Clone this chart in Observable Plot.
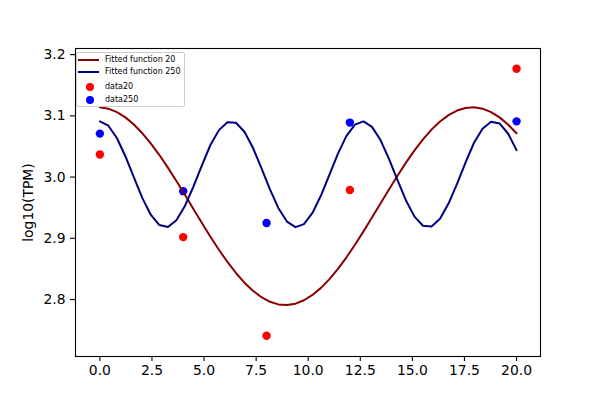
<!DOCTYPE html>
<html>
<head>
<meta charset="utf-8">
<script src="https://cdn.jsdelivr.net/npm/d3@7"></script>
<script src="https://cdn.jsdelivr.net/npm/@observablehq/plot@0.6"></script>
<style>
  body { margin: 0; background: #fff; }
  #wrap { position: relative; width: 600px; height: 400px; font-family: "DejaVu Sans", sans-serif; }
  #legend { position: absolute; left: 76px; top: 52px; width: 107px; height: 53px;
            border: 1px solid #cccccc; border-radius: 2px; background: rgba(255,255,255,0.8); }
  .row { position: absolute; left: 0; height: 12px; width: 100%; font-size: 8px; color: #000; }
  .row span { position: absolute; left: 28px; top: 50%; transform: translateY(-50%); white-space: nowrap; line-height: 1; }
  .hl { position: absolute; left: 1px; width: 21px; height: 2px; top: 50%; margin-top: -1px; }
  .hd { position: absolute; left: 9px; width: 8px; height: 8px; border-radius: 50%; top: 50%; margin-top: -4px; }
</style>
</head>
<body>
<div id="wrap"></div>
<script>
// Fitted curves sampled at 50 evenly spaced points from 0 to 20
const fitN = 50;
const fit20 = [3.1139, 3.1117, 3.1061, 3.0975, 3.0859, 3.0715, 3.0548, 3.0360, 3.0155, 2.9937,
               2.9710, 2.9480, 2.9251, 2.9027, 2.8813, 2.8614, 2.8434, 2.8275, 2.8143, 2.8038,
               2.7963, 2.7921, 2.7911, 2.7933, 2.7989, 2.8075, 2.8191, 2.8334, 2.8502, 2.8690,
               2.8895, 2.9113, 2.9340, 2.9570, 2.9799, 3.0023, 3.0236, 3.0436, 3.0616, 3.0775,
               3.0907, 3.1012, 3.1087, 3.1129, 3.1139, 3.1117, 3.1061, 3.0975, 3.0859, 3.0716];
const fit250 = [3.0910, 3.0839, 3.0639, 3.0341, 2.9995, 2.9657, 2.9382, 2.9217, 2.9186, 2.9295,
                2.9528, 2.9844, 3.0193, 3.0524, 3.0767, 3.0897, 3.0887, 3.0740, 3.0479, 3.0148,
                2.9800, 2.9492, 2.9274, 2.9182, 2.9231, 2.9414, 2.9699, 3.0041, 3.0384, 3.0672,
                3.0856, 3.0909, 3.0820, 3.0605, 3.0298, 2.9950, 2.9618, 2.9354, 2.9205, 2.9192,
                2.9318, 2.9567, 2.9889, 3.0238, 3.0561, 3.0790, 3.0903, 3.0876, 3.0712, 3.0440];
// Measured data
const dataX = [0, 4, 8, 12, 20];
const data20 = [3.037, 2.902, 2.741, 2.979, 3.177];
const data250 = [3.071, 2.977, 2.925, 3.089, 3.091];
// Ticks
const xTicks = [0, 2.5, 5, 7.5, 10, 12.5, 15, 17.5, 20];
const yTicks = [2.8, 2.9, 3.0, 3.1, 3.2];
const yLabel = "log10(TPM)";
const legendLabels = ["Fitted function 20", "Fitted function 250", "data20", "data250"];
const colors = {fit20: "#8b0000", fit250: "#000080", data20: "red", data250: "blue"};

const xGrid = d3.range(fitN).map(i => 20 * i / (fitN - 1));
const line20 = xGrid.map((x, i) => ({x, y: fit20[i]}));
const line250 = xGrid.map((x, i) => ({x, y: fit250[i]}));
const pts20 = dataX.map((x, i) => ({x, y: data20[i]}));
const pts250 = dataX.map((x, i) => ({x, y: data250[i]}));

const chart = Plot.plot({
  width: 600, height: 400,
  marginLeft: 75, marginRight: 60, marginTop: 48, marginBottom: 44,
  style: {fontFamily: "DejaVu Sans", fontSize: "13.9px", color: "black", background: "white"},
  x: {domain: [-1.17, 21.15]},
  y: {domain: [2.707, 3.210]},
  marks: [
    Plot.dot(pts20, {x: "x", y: "y", fill: colors.data20, r: 4.2}),
    Plot.dot(pts250, {x: "x", y: "y", fill: colors.data250, r: 4.2}),
    Plot.line(line20, {x: "x", y: "y", stroke: colors.fit20, strokeWidth: 2}),
    Plot.line(line250, {x: "x", y: "y", stroke: colors.fit250, strokeWidth: 2}),
    Plot.frame({stroke: "black", strokeWidth: 1.1}),
    Plot.axisX({ticks: xTicks, tickFormat: d3.format(".1f"), tickSize: 5, tickPadding: 4, label: null, strokeWidth: 1.1}),
    Plot.axisY({ticks: yTicks, tickFormat: d3.format(".1f"), tickSize: 5, tickPadding: 5,
                label: yLabel, labelAnchor: "center", labelArrow: "none", labelOffset: 52, strokeWidth: 1.1})
  ]
});
const wrap = document.getElementById("wrap");
wrap.appendChild(chart);

// Legend (HTML overlay, upper left inside axes)
const legend = document.createElement("div");
legend.id = "legend";
const rowTops = [1, 13, 27, 40];
const rowHeights = [12, 12, 13, 13];
legendLabels.forEach((lab, i) => {
  const row = document.createElement("div");
  row.className = "row";
  row.style.top = rowTops[i] + "px";
  row.style.height = rowHeights[i] + "px";
  const h = document.createElement("div");
  if (i < 2) { h.className = "hl"; h.style.background = i === 0 ? colors.fit20 : colors.fit250; }
  else { h.className = "hd"; h.style.background = i === 2 ? colors.data20 : colors.data250; }
  row.appendChild(h);
  const s = document.createElement("span");
  s.textContent = lab;
  row.appendChild(s);
  legend.appendChild(row);
});
wrap.appendChild(legend);
</script>
</body>
</html>
